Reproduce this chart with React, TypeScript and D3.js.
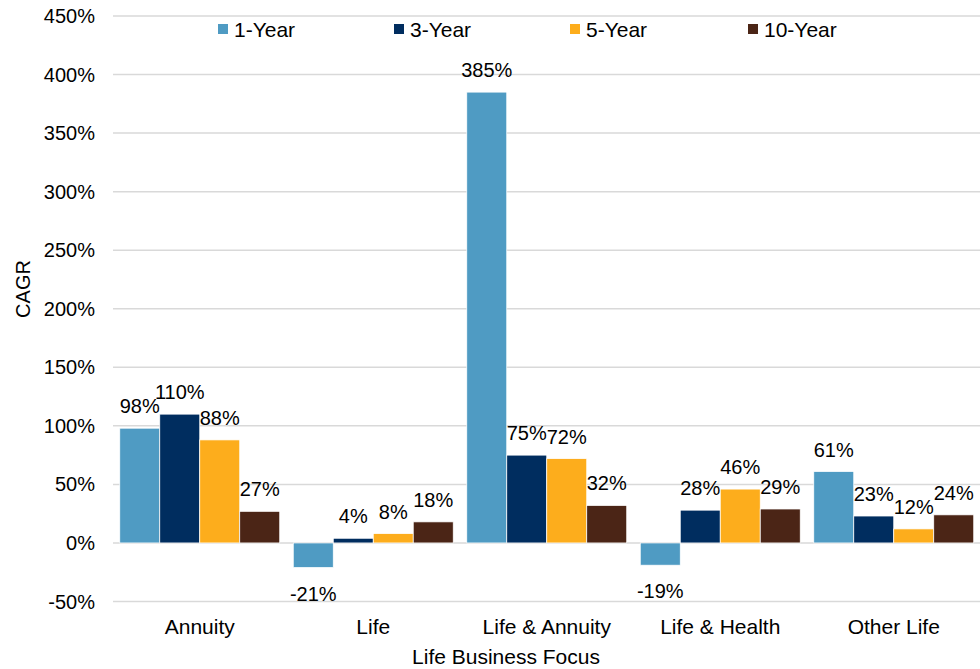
import React from "react";
import * as d3 from "d3";

const categories = ["Annuity", "Life", "Life & Annuity", "Life & Health", "Other Life"];
const seriesNames = ["1-Year", "3-Year", "5-Year", "10-Year"];
const oneYear = [98, -21, 385, -19, 61];
const threeYear = [110, 4, 75, 28, 23];
const fiveYear = [88, 8, 72, 46, 12];
const tenYear = [27, 18, 32, 29, 24];
const seriesColors = ["#4f9bc3", "#002d5f", "#fdad1c", "#4b2516"];
const yTicks = [-50, 0, 50, 100, 150, 200, 250, 300, 350, 400, 450];

const W = 980;
const H = 669;
const left = 113;
const right = 980.5;
const font = "'Liberation Sans', Arial, sans-serif";

export default function App() {
  const series = [oneYear, threeYear, fiveYear, tenYear];
  const y = d3.scaleLinear().domain([-50, 450]).range([601.5, 16]);
  const x0 = d3.scaleBand<string>().domain(categories).range([left, right]).paddingInner(0.078).paddingOuter(0.039);
  const x1 = d3.scaleBand<string>().domain(seriesNames).range([0, x0.bandwidth()]).padding(0);
  const legendX = [218, 394, 570, 748];

  return (
    <svg width={W} height={H} style={{ position: "absolute", left: 0, top: 0, fontFamily: font }}>
      <rect width={W} height={H} fill="#fff" />
      {yTicks.map((t) => (
        <g key={t}>
          <line x1={left} x2={right} y1={y(t)} y2={y(t)} stroke="#d9d9d9" strokeWidth={1.5} />
          <text x={95} y={y(t)} dy="0.35em" textAnchor="end" fontSize={20} fill="#000">
            {t}%
          </text>
        </g>
      ))}
      {series.map((vals, si) =>
        vals.map((v, ci) => {
          const bx = (x0(categories[ci]) as number) + (x1(seriesNames[si]) as number);
          const bw = x1.bandwidth();
          const top = y(Math.max(0, v));
          const bot = y(Math.min(0, v));
          return (
            <g key={`${si}-${ci}`}>
              <rect x={bx} y={top} width={bw} height={bot - top} fill={seriesColors[si]} stroke="#fff" strokeWidth={0.75} />
            </g>
          );
        })
      )}
      {series.map((vals, si) =>
        vals.map((v, ci) => {
          const bx = (x0(categories[ci]) as number) + (x1(seriesNames[si]) as number);
          const bw = x1.bandwidth();
          const ly = v >= 0 ? y(v) - 15 : y(v) + 33;
          return (
            <text key={`l${si}-${ci}`} x={bx + bw / 2} y={ly} textAnchor="middle" fontSize={20} fill="#000">
              {v}%
            </text>
          );
        })
      )}
      {categories.map((c) => (
        <text key={c} x={(x0(c) as number) + x0.bandwidth() / 2} y={634} textAnchor="middle" fontSize={21} fill="#000">
          {c}
        </text>
      ))}
      <text x={506} y={664} textAnchor="middle" fontSize={21} fill="#000">
        Life Business Focus
      </text>
      <text transform={`translate(30,289) rotate(-90)`} textAnchor="middle" fontSize={20} fill="#000">
        CAGR
      </text>
      {seriesNames.map((s, i) => (
        <g key={s}>
          <rect x={legendX[i]} y={24} width={10} height={10} fill={seriesColors[i]} />
          <text x={legendX[i] + 16} y={37} fontSize={21} fill="#000">
            {s}
          </text>
        </g>
      ))}
    </svg>
  );
}
